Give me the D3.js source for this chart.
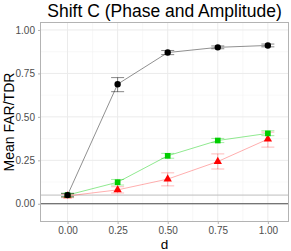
<!DOCTYPE html>
<html>
<head>
<meta charset="utf-8">
<script src="https://cdn.jsdelivr.net/npm/d3@7"></script>
<style>
  body { margin: 0; background: #fff; }
  text { font-family: "Liberation Sans", Arial, sans-serif; }
</style>
</head>
<body>
<svg id="chart" width="291" height="251"></svg>
<script>
// values
const dValues = [0, 0.25, 0.5, 0.75, 1];
const xTicks = [0, 0.25, 0.5, 0.75, 1];
const yTicks = [0, 0.25, 0.5, 0.75, 1];

const blackMean = [0.05, 0.688, 0.870, 0.900, 0.911];
const blackLo   = [0.04, 0.645, 0.858, 0.892, 0.903];
const blackHi   = [0.06, 0.726, 0.882, 0.908, 0.919];

const greenMean = [0.05, 0.124, 0.276, 0.364, 0.405];
const greenLo   = [0.04, 0.108, 0.262, 0.352, 0.392];
const greenHi   = [0.06, 0.140, 0.290, 0.376, 0.420];

const redMean = [0.045, 0.080, 0.142, 0.243, 0.372];
const redLo   = [0.035, 0.062, 0.103, 0.200, 0.326];
const redHi   = [0.055, 0.098, 0.178, 0.287, 0.412];

const refLines = [0.05, 0];

const series = [
  { name: "red", mean: redMean, lo: redLo, hi: redHi, color: "#ff0000", shape: d3.symbolTriangle, size: 30, line: "rgba(255,0,0,0.4)", bar: "rgba(255,0,0,0.35)" },
  { name: "green", mean: greenMean, lo: greenLo, hi: greenHi, color: "#00cd00", shape: d3.symbolSquare, size: 32, line: "rgba(0,205,0,0.55)", bar: "rgba(0,205,0,0.45)" },
  { name: "black", mean: blackMean, lo: blackLo, hi: blackHi, color: "#000000", shape: d3.symbolCircle, size: 32, line: "rgba(0,0,0,0.55)", bar: "rgba(0,0,0,0.6)" }
];

const svg = d3.select("#chart");
const margin = { left: 40.5, right: 2.5, top: 22.5, bottom: 29.5 };
const W = 291, H = 251;

const x = d3.scaleLinear().domain([-0.135, 1.103]).range([margin.left, W - margin.right]);
const y = d3.scaleLinear().domain([-0.102, 1.043]).range([H - margin.bottom, margin.top]);

const panel = svg.append("g");

// minor grid
const minorX = xTicks.slice(0, -1).map((v, i) => (v + xTicks[i + 1]) / 2);
const minorY = yTicks.slice(0, -1).map((v, i) => (v + yTicks[i + 1]) / 2);
panel.selectAll(".mgx").data(minorX).join("line")
  .attr("x1", d => x(d)).attr("x2", d => x(d))
  .attr("y1", y.range()[0]).attr("y2", y.range()[1])
  .attr("stroke", "#f0f0f0").attr("stroke-width", 0.5);
panel.selectAll(".mgy").data(minorY).join("line")
  .attr("y1", d => y(d)).attr("y2", d => y(d))
  .attr("x1", x.range()[0]).attr("x2", x.range()[1])
  .attr("stroke", "#f0f0f0").attr("stroke-width", 0.5);

// major grid
panel.selectAll(".gx").data(xTicks).join("line")
  .attr("x1", d => x(d)).attr("x2", d => x(d))
  .attr("y1", y.range()[0]).attr("y2", y.range()[1])
  .attr("stroke", "#ebebeb").attr("stroke-width", 1);
panel.selectAll(".gy").data(yTicks).join("line")
  .attr("y1", d => y(d)).attr("y2", d => y(d))
  .attr("x1", x.range()[0]).attr("x2", x.range()[1])
  .attr("stroke", "#ebebeb").attr("stroke-width", 1);

// reference lines
panel.selectAll(".ref").data(refLines).join("line")
  .attr("y1", d => y(d)).attr("y2", d => y(d))
  .attr("x1", x.range()[0]).attr("x2", x.range()[1])
  .attr("stroke", (d, i) => i === 0 ? "#bdbdbd" : "#4d4d4d")
  .attr("stroke-width", (d, i) => i === 0 ? 1 : 1.1);

const line = d3.line().x(d => x(d[0])).y(d => y(d[1]));
const capW = 6.5;

series.forEach(s => {
  const pts = dValues.map((d, i) => [d, s.mean[i]]);
  const g = svg.append("g");
  g.append("path").datum(pts).attr("d", line)
    .attr("fill", "none").attr("stroke", s.line).attr("stroke-width", 0.8);

  const bars = g.selectAll(".eb").data(dValues.map((d, i) => ({ d, lo: s.lo[i], hi: s.hi[i] }))).join("g");
  bars.append("line")
    .attr("x1", e => x(e.d)).attr("x2", e => x(e.d))
    .attr("y1", e => y(e.lo)).attr("y2", e => y(e.hi))
    .attr("stroke", s.bar).attr("stroke-width", 0.8);
  ["lo", "hi"].forEach(k => {
    bars.append("line")
      .attr("x1", e => x(e.d) - capW).attr("x2", e => x(e.d) + capW)
      .attr("y1", e => y(e[k])).attr("y2", e => y(e[k]))
      .attr("stroke", s.bar).attr("stroke-width", 0.8);
  });

  g.selectAll(".pt").data(pts).join("path")
    .attr("transform", p => `translate(${x(p[0])},${y(p[1])})`)
    .attr("d", d3.symbol().type(s.shape).size(s.size))
    .attr("fill", s.color);
});

// panel border
svg.append("rect")
  .attr("x", x.range()[0]).attr("y", y.range()[1])
  .attr("width", x.range()[1] - x.range()[0]).attr("height", y.range()[0] - y.range()[1])
  .attr("fill", "none").attr("stroke", "#b3b3b3").attr("stroke-width", 1);

// axes
const xAxis = svg.append("g").attr("transform", `translate(0,${y.range()[0]})`)
  .call(d3.axisBottom(x).tickValues(xTicks).tickFormat(d3.format(".2f")).tickSize(2.5).tickPadding(2.5));
const yAxis = svg.append("g").attr("transform", `translate(${x.range()[0]},0)`)
  .call(d3.axisLeft(y).tickValues(yTicks).tickFormat(d3.format(".2f")).tickSize(2.5).tickPadding(3));
[xAxis, yAxis].forEach(a => {
  a.select(".domain").remove();
  a.selectAll(".tick line").attr("stroke", "#b3b3b3");
  a.selectAll(".tick text").attr("fill", "#4d4d4d").style("font-size", "10px")
    .style("font-family", "'Liberation Sans', Arial, sans-serif");
});

// titles
svg.append("text").attr("x", (x.range()[0] + x.range()[1]) / 2).attr("y", 17)
  .attr("text-anchor", "middle").style("font-size", "17.5px").attr("fill", "#000")
  .text("Shift C (Phase and Amplitude)");
svg.append("text").attr("x", (x.range()[0] + x.range()[1]) / 2).attr("y", 248.5)
  .attr("text-anchor", "middle").style("font-size", "13.5px").attr("fill", "#000")
  .text("d");
svg.append("text").attr("transform", `translate(13.5,${(y.range()[0] + y.range()[1]) / 2}) rotate(-90)`)
  .attr("text-anchor", "middle").style("font-size", "14px").attr("fill", "#000")
  .text("Mean FAR/TDR");
</script>
</body>
</html>
